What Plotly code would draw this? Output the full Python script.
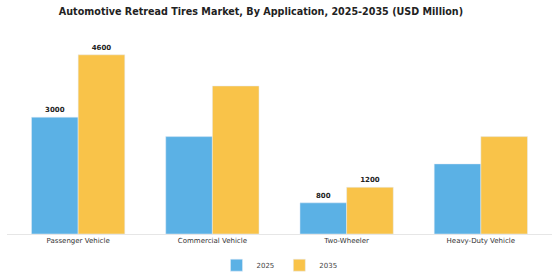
import plotly.graph_objects as go

categories = ["Passenger Vehicle", "Commercial Vehicle", "Two-Wheeler", "Heavy-Duty Vehicle"]
values_2025 = [3000, 2500, 800, 1800]
values_2035 = [4600, 3800, 1200, 2500]
labels_2025 = ["3000", "", "800", ""]
labels_2035 = ["4600", "", "1200", ""]

blue = "#5BB1E5"
orange = "#F9C349"

fig = go.Figure()
fig.add_trace(go.Bar(x=categories, y=values_2025, name="2025", marker_color=blue,
                     text=labels_2025, textposition="outside", cliponaxis=False,
                     textfont=dict(family="DejaVu Sans", size=7, color="#222"),
                     texttemplate="<b>%{text}</b>"))
fig.add_trace(go.Bar(x=categories, y=values_2035, name="2035", marker_color=orange,
                     text=labels_2035, textposition="outside", cliponaxis=False,
                     textfont=dict(family="DejaVu Sans", size=7, color="#222"),
                     texttemplate="<b>%{text}</b>"))

fig.update_layout(
    width=560, height=280,
    margin=dict(l=7, r=8, t=40, b=46, autoexpand=False),
    paper_bgcolor="white", plot_bgcolor="white",
    barmode="group", bargap=0.305, bargroupgap=0,
    title=dict(text="<b>Automotive Retread Tires Market, By Application, 2025-2035 (USD Million)</b>",
               x=0.466, xanchor="center", xref="container", y=0.96, yanchor="middle",
               font=dict(family="DejaVu Sans", size=9.6, color="#222")),
    font=dict(family="DejaVu Sans", size=7, color="#333"),
    legend=dict(orientation="h", x=0.5, xanchor="center", xref="paper",
                y=0.053, yanchor="middle", yref="container", itemwidth=30,
                font=dict(size=7, color="#444")),
    xaxis=dict(range=[-0.53, 3.53], showline=True, linecolor="#e6e6e6", linewidth=1,
               ticks="", tickfont=dict(size=7, color="#333")),
    yaxis=dict(range=[0, 4980], visible=False, showgrid=False),
)
fig.update_traces(textangle=0, constraintext="none")
fig.write_html("out.html")
